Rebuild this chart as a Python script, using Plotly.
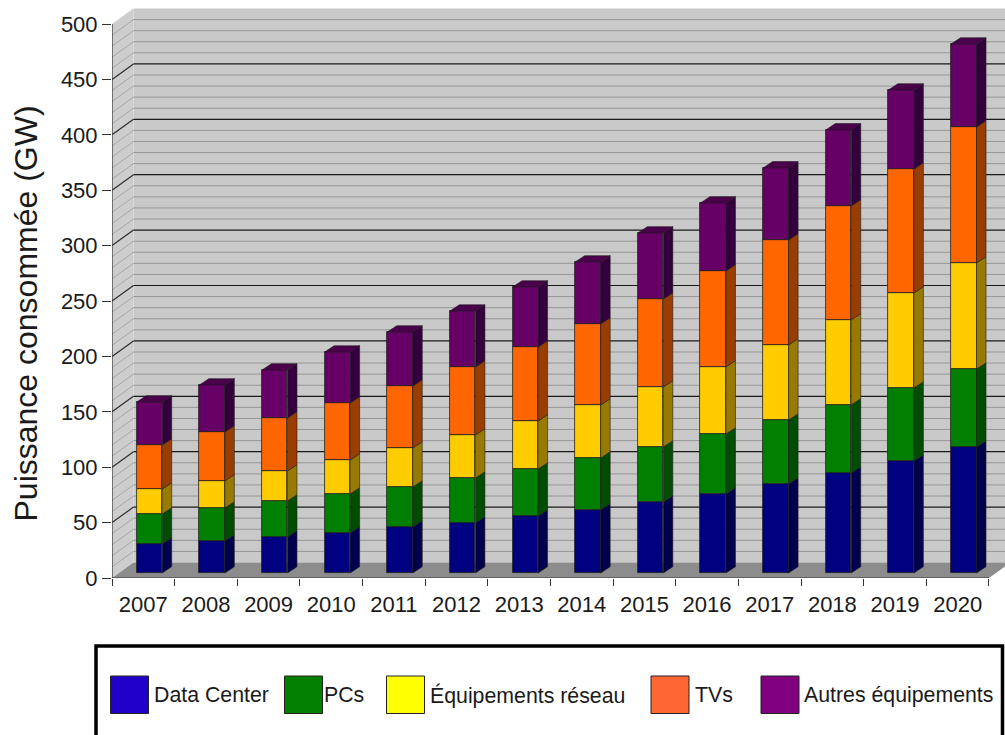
import plotly.graph_objects as go

years = [2007, 2008, 2009, 2010, 2011, 2012, 2013, 2014, 2015, 2016, 2017, 2018, 2019, 2020]
data_center = [26.2, 28.9, 32.5, 36.1, 41.5, 45.1, 51.4, 56.9, 64.1, 71.3, 80.3, 90.3, 101.1, 113.7]
pcs = [27.0, 29.8, 32.5, 35.2, 36.1, 40.6, 42.4, 46.9, 49.6, 54.2, 57.8, 61.4, 65.9, 70.4]
reseau = [22.6, 24.4, 27.1, 30.7, 35.2, 38.8, 43.3, 47.8, 54.2, 60.5, 67.7, 76.7, 85.7, 95.7]
tvs = [39.7, 44.2, 47.8, 51.4, 56.0, 61.4, 66.8, 73.1, 79.4, 86.6, 94.8, 102.9, 111.9, 122.7]
autres = [38.8, 42.4, 43.3, 46.0, 48.7, 50.5, 54.2, 56.0, 59.6, 61.4, 65.0, 68.6, 71.3, 74.9]

series_names = ["Data Center", "PCs", "Équipements réseau", "TVs", "Autres équipements"]
series_values = [data_center, pcs, reseau, tvs, autres]
front_colors = ["#000080", "#007f00", "#ffcc00", "#ff6600", "#660066"]
side_colors = ["#00004d", "#004c00", "#997a00", "#993d00", "#33003d"]
legend_colors = ["#2200cc", "#007f00", "#ffff00", "#ff6633", "#800080"]
legend_swatch_x = [110.5, 284.5, 386.5, 651, 761]
legend_text_x = [154, 324, 430, 695, 804]

W, H = 1005, 735
L, R, T, B = 112, 1005, 8, 578
PX_X = 62.64
PX_Y = 1.108
FONT = "Liberation Sans"
TXT = "#1a1a1a"

x_max = (R - L) / PX_X
y_max = (B - T) / PX_Y
wall_dx = 21.5 / PX_X
wall_dy = 15.5 / PX_Y
bar_left = 24.7 / PX_X
bar_w = 25.5 / PX_X
bar_dx = 9.5 / PX_X
bar_dy = 6.3 / PX_Y
bar_base = 5 / PX_Y


def px(x):
    return (x - L) / (R - L)


def py(y):
    return (B - y) / (B - T)


def poly(pts):
    return "M " + " L ".join(f"{a},{b}" for a, b in pts) + " Z"


shapes = []
shapes.append(dict(type="path", xref="x", yref="y", layer="below", line_width=0, fillcolor="#c9c9c9",
                   path=poly([(wall_dx, wall_dy), (x_max + 1, wall_dy), (x_max + 1, 500 + wall_dy), (wall_dx, 500 + wall_dy)])))
shapes.append(dict(type="path", xref="x", yref="y", layer="below", line_width=0, fillcolor="#cdcdcd",
                   path=poly([(0, 0), (wall_dx, wall_dy), (wall_dx, 500 + wall_dy), (0, 500)])))
shapes.append(dict(type="path", xref="x", yref="y", layer="below", line_width=0, fillcolor="#8c8c8c",
                   path=poly([(0, 0), (14, 0), (14 + wall_dx, wall_dy), (wall_dx, wall_dy)])))
for v in range(10, 500, 10):
    major = v % 50 == 0
    back_col = "#1a1a1a" if major else "#969696"
    side_col = "#2e2e2e" if major else "#a6a6a6"
    shapes.append(dict(type="path", xref="x", yref="y", layer="below",
                       line=dict(color=side_col, width=1.2 if major else 1),
                       path=f"M 0,{v} L {wall_dx},{v + wall_dy}"))
    shapes.append(dict(type="path", xref="x", yref="y", layer="below",
                       line=dict(color=back_col, width=1.2 if major else 1),
                       path=f"M {wall_dx},{v + wall_dy} L {x_max + 1},{v + wall_dy}"))
shapes.append(dict(type="line", xref="x", yref="y", layer="below", x0=0, x1=0, y0=0, y1=500,
                   line=dict(color="#333333", width=1.2)))
shapes.append(dict(type="line", xref="x", yref="y", layer="below", x0=0, x1=14, y0=0, y1=0,
                   line=dict(color="#333333", width=1.2)))

# legend box and swatches
shapes.append(dict(type="rect", xref="paper", yref="paper", x0=px(96), x1=px(1002.5), y0=py(646), y1=py(760),
                   line=dict(color="#000000", width=3.5), fillcolor="#ffffff"))
annotations = []
for name, col, sx, tx in zip(series_names, legend_colors, legend_swatch_x, legend_text_x):
    shapes.append(dict(type="rect", xref="paper", yref="paper", x0=px(sx), x1=px(sx + 38), y0=py(676), y1=py(713.5),
                       line=dict(color="#222222", width=1), fillcolor=col))
    annotations.append(dict(xref="paper", yref="paper", x=px(tx), y=py(695), text=name, showarrow=False,
                            xanchor="left", yanchor="middle", xshift=-2,
                            font=dict(family=FONT, size=21.3, color=TXT)))
annotations.append(dict(xref="paper", yref="paper", x=px(25), y=py(313.5), text="Puissance consommée (GW)",
                        textangle=-90, showarrow=False, xanchor="center", yanchor="middle",
                        font=dict(family=FONT, size=32, color=TXT)))

fig = go.Figure()
n = len(years)
cum = [bar_base] * n
tops = None
for name, vals, fc, sc in zip(series_names, series_values, front_colors, side_colors):
    fig.add_trace(go.Bar(
        x=[i + bar_left + bar_w / 2 for i in range(n)], y=vals, base=cum, width=bar_w, name=name,
        marker=dict(color=fc, line=dict(color="#1f1f1f", width=0.8)), showlegend=False))
    sx, sy = [], []
    for i in range(n):
        r = i + bar_left + bar_w
        b, t = cum[i], cum[i] + vals[i]
        sx += [r, r + bar_dx, r + bar_dx, r, r, None]
        sy += [b, b + bar_dy, t + bar_dy, t, b, None]
    fig.add_trace(go.Scatter(x=sx, y=sy, mode="lines", fill="toself", fillcolor=sc,
                             line=dict(color="#1f1f1f", width=0.6), showlegend=False, hoverinfo="skip"))
    cum = [c + v for c, v in zip(cum, vals)]
    tops = cum

tx, ty = [], []
for i in range(n):
    l = i + bar_left
    r = l + bar_w
    t = tops[i]
    tx += [l, l + bar_dx, r + bar_dx, r, l, None]
    ty += [t, t + bar_dy, t + bar_dy, t, t, None]
fig.add_trace(go.Scatter(x=tx, y=ty, mode="lines", fill="toself", fillcolor="#4a004a",
                         line=dict(color="#1f1f1f", width=0.6), showlegend=False, hoverinfo="skip"))

fig.update_layout(
    width=W, height=H, autosize=False,
    margin=dict(l=L, r=W - R, t=T, b=H - B),
    paper_bgcolor="#ffffff", plot_bgcolor="#ffffff",
    barmode="overlay", bargap=0, showlegend=False,
    shapes=shapes, annotations=annotations,
    font=dict(family=FONT, color=TXT),
    xaxis=dict(range=[0, x_max], showgrid=False, zeroline=False, showline=False,
               tickmode="array", tickvals=[i + 0.5 for i in range(n)], ticktext=[str(y) for y in years],
               ticks="outside", ticklen=7, tickcolor="rgba(0,0,0,0)",
               tickfont=dict(family=FONT, size=22, color=TXT),
               minor=dict(tickmode="array", tickvals=list(range(n + 1)), ticks="outside", ticklen=7,
                          tickcolor="#333333", tickwidth=1.2, showgrid=False)),
    yaxis=dict(range=[0, y_max], showgrid=False, zeroline=False, showline=False,
               tickmode="array", tickvals=list(range(0, 501, 50)), ticks="outside", ticklen=9,
               tickcolor="#333333", tickwidth=1.2,
               tickfont=dict(family=FONT, size=22, color=TXT)),
)

fig.write_html("out.html", config=dict(displayModeBar=False), post_script="document.body.style.margin='0';")
